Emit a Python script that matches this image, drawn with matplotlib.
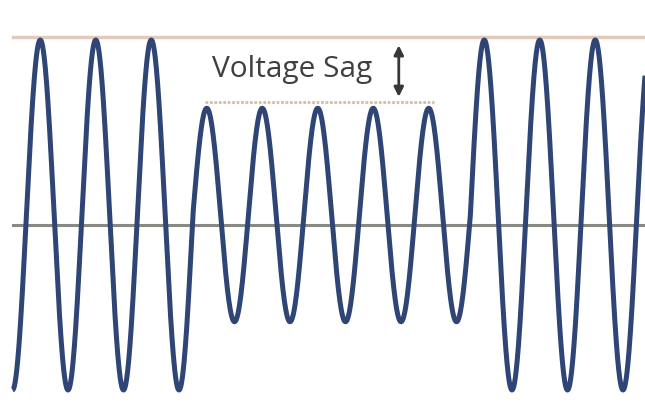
import matplotlib
matplotlib.use('Agg')
import matplotlib.pyplot as plt
import numpy as np

# wave described in cycles: t=0 is a trough, peaks at t=0.5, 1.5, ...
seg_edges = [0.0, 3.25, 8.25, 11.45]   # cycle positions where amplitude changes
seg_amps = [1.0, 0.61, 1.0]            # normal / sag / normal
center_level = -0.057                  # grey reference line
nominal_level = 1.017                  # top reference line
sag_level = 0.646                      # sag reference line
label = 'Voltage Sag'

fig = plt.figure(figsize=(6.45, 4.03), dpi=100)
ax = fig.add_axes([0, 0, 1, 1])

# pixel -> cycle mapping: x_px = 12.5 + 55.5 * t
px0, px_per_cycle = 12.5, 55.5
ax.set_xlim(-px0 / px_per_cycle, (645 - px0) / px_per_cycle)
ax.set_ylim((215 - 403) / 175, 215 / 175)
ax.axis('off')

t = np.linspace(seg_edges[0], seg_edges[-1], 3000)
amp = np.piecewise(t, [(t >= a) & (t < b) for a, b in zip(seg_edges[:-1], seg_edges[1:])], seg_amps)
y = -amp * np.cos(2 * np.pi * t)

ax.plot([seg_edges[0], seg_edges[-1]], [nominal_level] * 2, color='#e3c9bb', lw=2.5, zorder=1)
ax.plot([seg_edges[0], seg_edges[-1]], [center_level] * 2, color='#8a8a85', lw=2.2, zorder=1)
ax.plot([3.47, 7.6], [sag_level] * 2, color='#d6bf9f', lw=2, ls=(0, (1, 0.6)), zorder=1)
ax.plot(t, y, color='#2f4575', lw=3.6, solid_capstyle='butt', zorder=3)

ax.text(3.6, 0.786, label, fontsize=21.5, family='Open Sans', color='#404040',
        va='baseline', ha='left')
ax.annotate('', xy=(6.96, 0.675), xytext=(6.96, 0.97),
            arrowprops=dict(arrowstyle='<|-|>', color='#383838', lw=2.0,
                            mutation_scale=14, shrinkA=0, shrinkB=0))

fig.savefig('out.png', dpi=100)
